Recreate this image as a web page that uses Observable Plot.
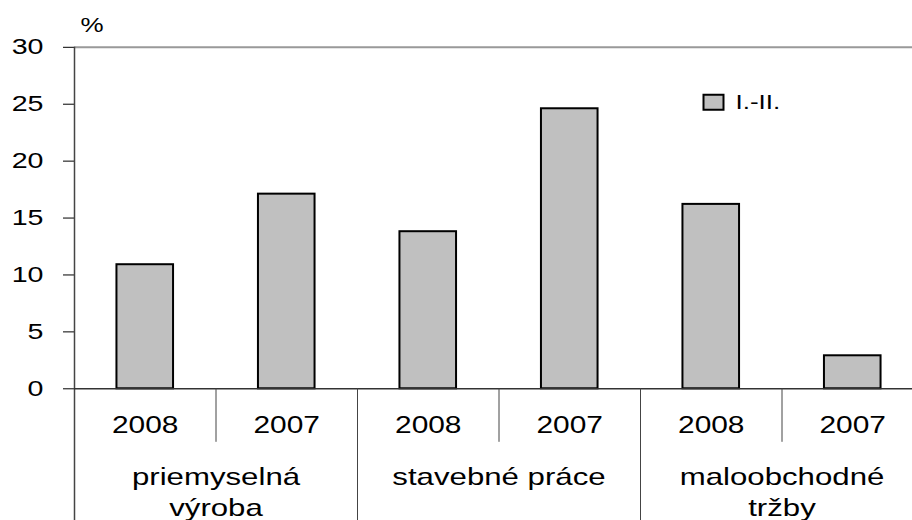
<!DOCTYPE html>
<html>
<head>
<meta charset="utf-8">
<script src="https://cdn.jsdelivr.net/npm/d3@7"></script>
<script src="https://cdn.jsdelivr.net/npm/@observablehq/plot@0.6"></script>
<style>
  html, body { margin: 0; padding: 0; background: #fff; }
  #chart svg { display: block; }
  g[aria-label="ylabels"] text { letter-spacing: 1.5px; }
  g[aria-label="years"] text { letter-spacing: 2.5px; }
  g[aria-label="groups1"] text, g[aria-label="groups2"] text { letter-spacing: 1px; }
  g[aria-label="legend-text"] text { letter-spacing: 2px; }
</style>
</head>
<body>
<div id="chart"></div>
<script>
// ---- data ----
const groups = ["priemyselná\nvýroba", "stavebné práce", "maloobchodné\ntržby"];
const years = ["2008", "2007"];
const values = [10.9, 17.1, 13.8, 24.6, 16.2, 2.9];
const yTicks = [0, 5, 10, 15, 20, 25, 30];
const unitLabel = "%";
const seriesLabel = "I.-II.";

// ---- derived table ----
const bars = values.map((v, i) => ({
  i,
  group: groups[Math.floor(i / years.length)],
  year: years[i % years.length],
  value: v
}));
const groupRows = groups.map((g, j) => {
  const lines = g.split("\n");
  return {center: (j + 0.5) * years.length, line1: lines[0], line2: lines[1] || ""};
});
const nCats = values.length;
const catIdx = d3.range(nCats);
const groupEdges = d3.range(0, nCats + 1, years.length);
const yearEdges = catIdx.filter(i => i % years.length !== 0);

// layout constants (data units below the zero line)
const shortSepBottom = -4.7;
const longSepBottom = -11.6;
const barGap = 0.3;

const grey = "#c0c0c0";
const rectSymbol = {draw(ctx) { ctx.rect(-10, -7.5, 20, 15); }};

const chart = Plot.plot({
  width: 912,
  height: 520,
  marginLeft: 74,
  marginTop: 47,
  marginRight: 0,
  marginBottom: 132,
  x: {type: "linear", domain: [0, nCats], range: [74, 923], axis: null},
  y: {domain: [0, 30], range: [388.3, 46.8], axis: null},
  style: {fontFamily: "'Liberation Sans', Arial, sans-serif", color: "#000", background: "#fff"},
  marks: [
    // top border
    Plot.ruleY([30], {x1: 0, x2: nCats, stroke: "#999", strokeWidth: 2}),
    // bars
    Plot.rectY(bars, {x1: d => d.i + barGap, x2: d => d.i + 1 - barGap, y1: 0, y2: "value",
      fill: grey, stroke: "#000", strokeWidth: 2, inset: 0}),
    // y axis ticks
    Plot.axisY({ticks: yTicks, tickSize: 11, tickFormat: () => "", stroke: "#000", label: null}),
    // y axis labels
    Plot.text(yTicks, {x: 0, y: d => d, text: d => String(d), dx: -31, textAnchor: "end", lineAnchor: "middle",
      fontSize: 22, fill: "#000", ariaLabel: "ylabels"}),
    Plot.ruleX([0], {y1: longSepBottom, y2: 30, stroke: "#444", strokeWidth: 1.5}),
    // x baseline
    Plot.ruleY([0], {x1: 0, x2: nCats, stroke: "#333", strokeWidth: 1.5}),
    // separators
    Plot.ruleX(groupEdges.filter(e => e > 0), {y1: longSepBottom, y2: 0, stroke: "#444", strokeWidth: 1}),
    Plot.ruleX(yearEdges, {y1: shortSepBottom, y2: 0, stroke: "#444", strokeWidth: 1}),
    // year labels
    Plot.text(bars, {x: d => d.i + 0.5, y: 0, text: "year", dy: 43.7, lineAnchor: "bottom",
      fontSize: 23, fill: "#000", ariaLabel: "years"}),
    // group labels
    Plot.text(groupRows, {x: "center", y: 0, text: "line1", dy: 95.7, lineAnchor: "bottom",
      fontSize: 24, fill: "#000", ariaLabel: "groups1"}),
    Plot.text(groupRows, {x: "center", y: 0, text: "line2", dy: 126.7, lineAnchor: "bottom",
      fontSize: 24, fill: "#000", ariaLabel: "groups2"}),
    // unit label
    Plot.text([unitLabel], {frameAnchor: "top-left", text: d => d, dx: 6, dy: -15.3, lineAnchor: "bottom",
      textAnchor: "start", fontSize: 20, fill: "#000", ariaLabel: "unit"}),
    // legend
    Plot.dot([seriesLabel], {frameAnchor: "top-left", dx: 639, dy: 54.7, symbol: rectSymbol,
      fill: grey, stroke: "#000", strokeWidth: 2}),
    Plot.text([seriesLabel], {frameAnchor: "top-left", text: d => d, dx: 661, dy: 61, lineAnchor: "bottom",
      textAnchor: "start", fontSize: 20, fill: "#000", ariaLabel: "legend-text"})
  ]
});

// horizontally stretch all texts about their anchors (reference typography is wide)
const k = 1.3;
chart.querySelectorAll("text").forEach(el => {
  const t = el.getAttribute("transform") || "";
  const x = parseFloat(el.getAttribute("x")) || 0;
  el.setAttribute("transform", `${t} translate(${x},0) scale(${k},1) translate(${-x},0)`);
});

document.getElementById("chart").appendChild(chart);
</script>
</body>
</html>
